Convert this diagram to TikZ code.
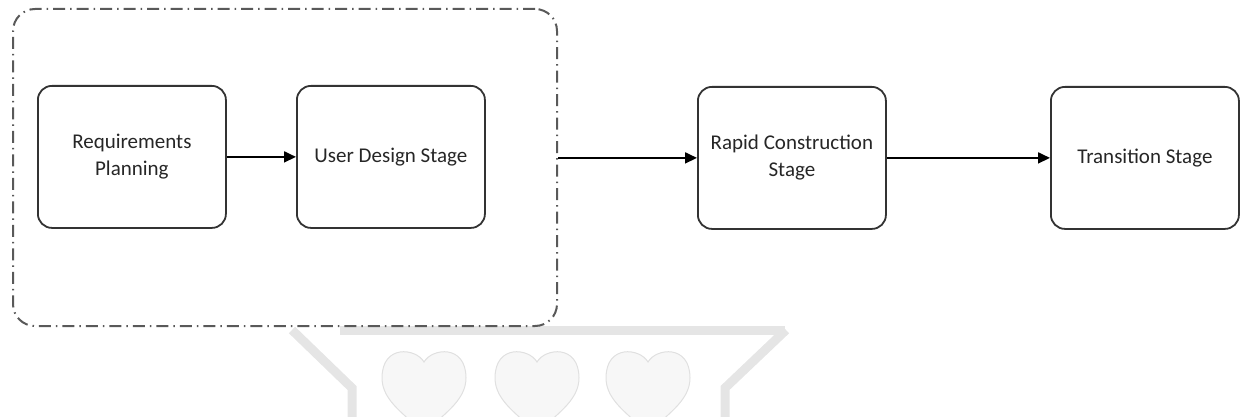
\documentclass[tikz,border=0pt]{standalone}
\usepackage{fontspec}
\setmainfont{Carlito}
\usetikzlibrary{arrows.meta}
\tikzset{
  stagebox/.style={draw=black!80, line width=1.8pt, rounded corners=14pt,
    minimum width=188pt, minimum height=142pt, align=center, inner sep=0pt,
    text=black!85, font=\fontsize{21}{27}\selectfont, anchor=north west},
  groupbox/.style={draw=black!65, line width=2pt, rounded corners=22pt,
    dash pattern=on 12pt off 5pt on 1.5pt off 5pt,
    minimum width=544pt, minimum height=317pt, inner sep=0pt, anchor=north west},
  flow/.style={draw=black, line width=1.8pt, -{Triangle[length=12pt,width=11pt]}},
  wmband/.style={draw=black!10, line width=9pt},
  wmheart/.style={fill=black!3, draw=black!12, line width=1pt},
}
\newcommand{\wmheartat}[1]{%
  \path[wmheart] (#1,362) .. controls (#1-8,348) and (#1-42,344) .. (#1-42,378)
    .. controls (#1-42,402) and (#1-16,416) .. (#1,434)
    .. controls (#1+16,416) and (#1+42,402) .. (#1+42,378)
    .. controls (#1+42,344) and (#1+8,348) .. (#1,362) -- cycle;}
\begin{document}
\begin{tikzpicture}[x=1pt,y=-1pt]
\useasboundingbox (0,0) rectangle (1246,417);
\clip (0,0) rectangle (1246,417);
% watermark
\draw[wmband, line join=miter] (292,330) -- (352,388) -- (352,420);
\draw[wmband] (340,330) -- (785,330);
\draw[wmband, line join=miter] (786,330) -- (725,388) -- (725,420);
\wmheartat{424}
\wmheartat{537}
\wmheartat{648}
% diagram
\node[groupbox] (grp) at (12,8) {};
\node[stagebox] (req) at (37,85) {Requirements\\Planning};
\node[stagebox] (ud) at (296,85) {User Design Stage};
\node[stagebox] (rc) at (697,86) {Rapid Construction\\Stage};
\node[stagebox] (tr) at (1050,86) {Transition Stage};
\draw[flow] (req.east) -- (ud.west);
\draw[flow] (grp.east |- rc.west) -- (rc.west);
\draw[flow] (rc.east) -- (tr.west);
\end{tikzpicture}
\end{document}
